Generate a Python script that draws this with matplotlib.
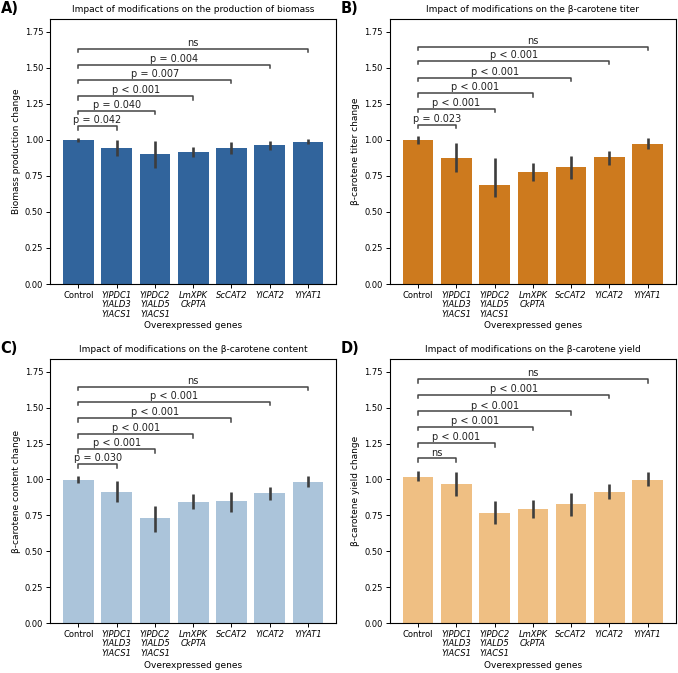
import matplotlib
matplotlib.use("Agg")
import matplotlib.pyplot as plt
import numpy as np

genes = ["Control", "YlPDC1\nYlALD3\nYlACS1", "YlPDC2\nYlALD5\nYlACS1",
         "LmXPK\nCkPTA", "ScCAT2", "YlCAT2", "YlYAT1"]

# panel A - biomass
biomass = [1.00, 0.943, 0.902, 0.916, 0.946, 0.962, 0.985]
biomass_lo = [0.985, 0.885, 0.804, 0.881, 0.904, 0.932, 0.971]
biomass_hi = [1.015, 0.997, 0.990, 0.948, 0.985, 0.990, 1.004]
biomass_p = ["p = 0.042", "p = 0.040", "p < 0.001", "p = 0.007", "p = 0.004", "ns"]
biomass_lv = [1.094, 1.203, 1.303, 1.418, 1.520, 1.634]

# panel B - titer
titer = [1.00, 0.876, 0.684, 0.777, 0.811, 0.878, 0.971]
titer_lo = [0.974, 0.777, 0.607, 0.716, 0.726, 0.823, 0.934]
titer_hi = [1.029, 0.978, 0.876, 0.839, 0.890, 0.925, 1.015]
titer_p = ["p = 0.023", "p < 0.001", "p < 0.001", "p < 0.001", "p < 0.001", "ns"]
titer_lv = [1.106, 1.217, 1.324, 1.432, 1.548, 1.648]

# panel C - content
content = [0.996, 0.912, 0.731, 0.845, 0.847, 0.907, 0.984]
content_lo = [0.975, 0.840, 0.636, 0.791, 0.775, 0.859, 0.949]
content_hi = [1.026, 0.991, 0.812, 0.900, 0.912, 0.949, 1.026]
content_p = ["p = 0.030", "p < 0.001", "p < 0.001", "p < 0.001", "p < 0.001", "ns"]
content_lv = [1.105, 1.211, 1.314, 1.427, 1.539, 1.645]

# panel D - yield
yld = [1.019, 0.965, 0.766, 0.796, 0.829, 0.914, 0.996]
yld_lo = [0.986, 0.886, 0.692, 0.735, 0.747, 0.863, 0.951]
yld_hi = [1.056, 1.051, 0.849, 0.858, 0.905, 0.968, 1.049]
yld_p = ["ns", "p < 0.001", "p < 0.001", "p < 0.001", "p < 0.001", "ns"]
yld_lv = [1.146, 1.253, 1.366, 1.473, 1.589, 1.698]

panels = [
    ("A)", "Impact of modifications on the production of biomass", "Biomass production change",
     biomass, biomass_lo, biomass_hi, biomass_p, biomass_lv, "#31649c"),
    ("B)", "Impact of modifications on the β-carotene titer", "β-carotene titer change",
     titer, titer_lo, titer_hi, titer_p, titer_lv, "#cd7a1e"),
    ("C)", "Impact of modifications on the β-carotene content", "β-carotene content change",
     content, content_lo, content_hi, content_p, content_lv, "#abc4da"),
    ("D)", "Impact of modifications on the β-carotene yield", "β-carotene yield change",
     yld, yld_lo, yld_hi, yld_p, yld_lv, "#efbf83"),
]

fig = plt.figure(figsize=(6.78, 6.73), dpi=100)
boxes = [[0.074, 0.578, 0.422, 0.394], [0.575, 0.578, 0.422, 0.394],
         [0.074, 0.074, 0.422, 0.393], [0.575, 0.074, 0.422, 0.393]]

for box, (lab, title, ylab, vals, lo, hi, pv, lv, col) in zip(boxes, panels):
    ax = fig.add_axes(box)
    x = np.arange(len(genes))
    ax.bar(x, vals, width=0.8, color=col)
    ax.vlines(x, lo, hi, color="#3d3d3d", lw=1.9)
    for i, (txt, h) in enumerate(zip(pv, lv)):
        ax.plot([0, 0, i + 1, i + 1], [h - 0.024, h, h, h - 0.024], color="#444444", lw=1.1)
        ax.text((i + 1) / 2, h + 0.006, txt, ha="center", va="bottom", fontsize=7, color="#222222")
    ax.set_xlim(-0.74, 6.74)
    ax.set_ylim(0, 1.84)
    ax.set_yticks([0, 0.25, 0.5, 0.75, 1.0, 1.25, 1.5, 1.75])
    ax.set_yticklabels(["0.00", "0.25", "0.50", "0.75", "1.00", "1.25", "1.50", "1.75"])
    ax.set_xticks(x)
    ax.set_xticklabels(genes, fontsize=6, linespacing=1.05)
    for t in ax.get_xticklabels()[1:]:
        t.set_fontstyle("italic")
    ax.tick_params(axis="y", labelsize=6, length=3, width=0.7, pad=2)
    ax.tick_params(axis="x", length=3, width=0.7, pad=2)
    ax.set_ylabel(ylab, fontsize=6.5, labelpad=3)
    ax.set_xlabel("Overexpressed genes", fontsize=6.5, labelpad=2)
    ax.set_title(title, fontsize=6.5, pad=5)
    for s in ax.spines.values():
        s.set_linewidth(0.8)
    fig.text(box[0] - 0.073, box[1] + box[3] + 0.004, lab, fontsize=10.5, fontweight="bold",
             va="bottom", ha="left")

fig.savefig("out.png", dpi=100)
